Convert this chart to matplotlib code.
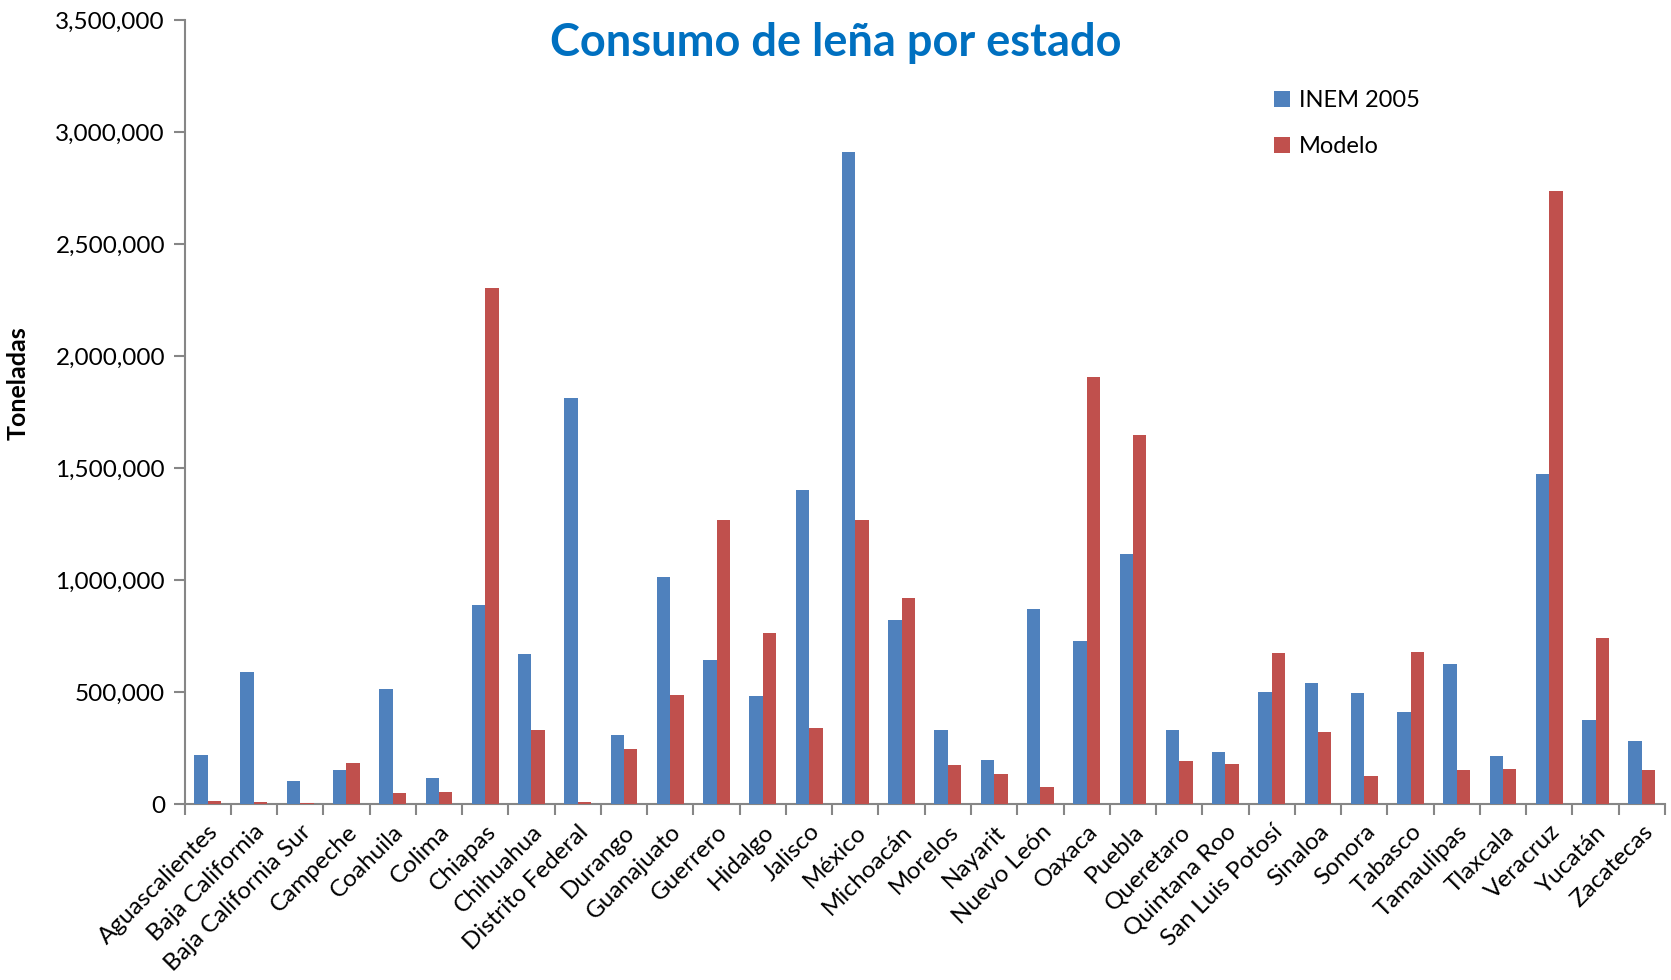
import matplotlib
matplotlib.use("Agg")
import matplotlib.pyplot as plt
import numpy as np
from matplotlib.ticker import FuncFormatter, FixedLocator

estados = ["Aguascalientes", "Baja California", "Baja California Sur", "Campeche",
           "Coahuila", "Colima", "Chiapas", "Chihuahua", "Distrito Federal", "Durango",
           "Guanajuato", "Guerrero", "Hidalgo", "Jalisco", "México", "Michoacán",
           "Morelos", "Nayarit", "Nuevo León", "Oaxaca", "Puebla", "Queretaro",
           "Quintana Roo", "San Luis Potosí", "Sinaloa", "Sonora", "Tabasco",
           "Tamaulipas", "Tlaxcala", "Veracruz", "Yucatán", "Zacatecas"]

inem_2005 = [220000, 589000, 104000, 153000, 516000, 116000, 890000, 672000, 1812000,
             311000, 1016000, 644000, 485000, 1403000, 2912000, 823000, 332000, 197000,
             872000, 728000, 1117000, 331000, 234000, 500000, 540000, 496000, 411000,
             626000, 216000, 1477000, 375000, 283000]

modelo = [15000, 10000, 6000, 185000, 50000, 55000, 2307000, 331000, 10000, 246000,
          488000, 1270000, 763000, 340000, 1270000, 922000, 174000, 134000, 78000,
          1910000, 1648000, 192000, 179000, 674000, 324000, 125000, 680000, 152000,
          158000, 2740000, 741000, 152000]

series_names = ["INEM 2005", "Modelo"]
title = "Consumo de leña por estado"
ylabel = "Toneladas"

plt.rcParams["font.family"] = ["Lato", "DejaVu Sans"]

W, H = 1671, 980
fig = plt.figure(figsize=(W / 100, H / 100), dpi=100)
ax = fig.add_axes([184.5 / W, 1 - 804.4 / H, (1665 - 184.5) / W, (804.4 - 20.3) / H])

x = np.arange(len(estados))
w = 0.29
blue = "#4F81BD"
red = "#C0504D"
ax.bar(x - w / 2, inem_2005, w, color=blue, label=series_names[0], zorder=3)
ax.bar(x + w / 2, modelo, w, color=red, label=series_names[1], zorder=3)

ax.set_xlim(-0.5, len(estados) - 0.5)
ax.set_ylim(0, 3500000)
ax.set_yticks(np.arange(0, 3500001, 500000))
ax.yaxis.set_major_formatter(FuncFormatter(lambda v, p: f"{int(v):,}"))

ax.xaxis.set_major_locator(FixedLocator(x))
ax.set_xticklabels(estados, rotation=45, ha="right", va="top",
                   rotation_mode="anchor", fontsize=17.5)
ax.xaxis.set_minor_locator(FixedLocator(np.arange(-0.5, len(estados), 1.0)))
ax.tick_params(axis="x", which="major", length=0, pad=12)
ax.tick_params(axis="x", which="minor", length=8, width=1.5, color="#868686")
ax.tick_params(axis="y", length=8, width=1.5, color="#868686", labelsize=17.5, pad=6)

for s in ["top", "right"]:
    ax.spines[s].set_visible(False)
for s in ["left", "bottom"]:
    ax.spines[s].set_color("#868686")
    ax.spines[s].set_linewidth(1.5)

fig.text(835.5 / W, 1 - 42.5 / H, title, ha="center", va="center",
         fontsize=32.5, fontweight="bold", color="#0070C0")
fig.text(18.5 / W, 1 - 383 / H, ylabel, rotation=90, ha="center", va="center",
         fontsize=18, fontweight="bold")

leg = ax.legend(loc="upper left", bbox_to_anchor=(1265 / W, 1 - 81 / H),
                bbox_transform=fig.transFigure, frameon=False, fontsize=17,
                handlelength=0.65, handleheight=0.65, handletextpad=0.4,
                labelspacing=1.05, borderaxespad=0)

fig.savefig("out.png", dpi=100)
